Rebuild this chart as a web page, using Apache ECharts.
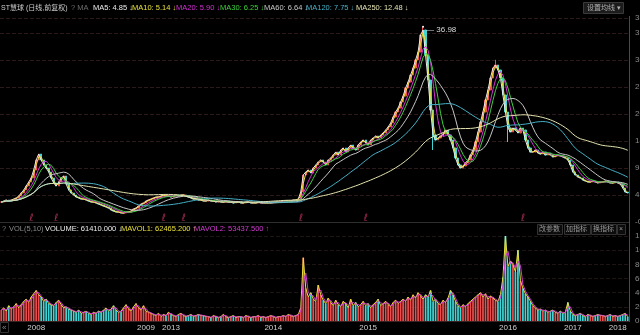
<!DOCTYPE html>
<html><head><meta charset="utf-8">
<script src="https://cdn.jsdelivr.net/npm/echarts@6/dist/echarts.min.js"></script>
<style>html,body{margin:0;padding:0;background:#000;}#c{width:640px;height:335px;}</style>
</head><body><div id="c"></div>
<script>
// ---- data (one candle ≈ 4 trading days) ----
const closes = [
3.09,3.29,3.48,3.29,3.48,3.67,3.87,4.26,4.84,5.42,6.19,6.96,7.74,9.28,11.22,12.38,11.22,10.25,9.67,8.90,
7.74,6.77,6.19,6.96,7.74,8.12,6.58,5.42,4.84,4.45,4.06,3.87,3.67,3.67,3.48,3.29,3.09,3.09,2.90,2.71,
2.51,2.32,2.13,1.93,1.55,1.35,1.16,1.16,0.97,0.97,1.16,1.16,1.35,1.74,1.93,2.32,2.71,2.90,3.29,3.48,
3.67,3.87,4.06,4.06,4.26,4.45,4.26,4.26,4.06,4.26,4.45,4.26,4.45,4.45,4.26,4.06,3.87,3.67,3.67,3.48,
3.48,3.29,3.29,3.48,3.29,3.29,3.09,3.29,3.09,3.09,3.29,3.09,3.09,2.90,3.09,3.09,2.90,2.90,3.09,3.09,
2.90,2.90,2.90,3.09,2.90,2.90,2.90,2.90,2.90,3.09,3.09,3.09,3.09,3.29,3.29,3.29,3.29,3.48,3.48,3.67,
5.03,8.32,8.90,9.28,8.70,9.67,10.25,10.83,11.22,10.83,10.25,11.22,11.60,12.18,12.76,12.18,13.15,13.54,12.76,13.54,
14.12,13.54,13.15,14.12,14.70,15.09,14.51,14.12,15.09,15.47,15.86,15.47,16.05,16.44,17.02,17.60,18.37,19.53,20.50,21.27,
22.43,23.59,25.14,26.30,27.66,29.01,30.56,32.10,35.39,36.36,31.52,26.69,20.89,16.05,15.09,15.47,15.86,16.25,17.02,16.05,
15.09,13.54,11.60,10.25,9.67,10.06,10.64,11.22,12.18,13.15,14.70,16.63,18.57,20.50,22.82,24.76,27.08,29.01,29.59,28.62,
27.08,23.79,20.50,17.41,16.63,17.41,17.02,16.44,17.41,17.02,15.09,13.54,12.76,12.76,13.15,12.57,12.38,12.76,12.18,12.57,
12.18,11.80,11.99,12.18,11.99,11.80,11.60,11.22,10.25,8.90,8.32,7.93,7.74,7.35,7.16,6.96,6.96,7.16,6.96,6.77,
6.96,6.96,7.16,6.96,6.77,6.77,6.96,6.77,6.58,5.80,5.03,4.85
];
// volume, thousands of lots
const volumes = [
154,185,139,216,169,200,246,185,231,277,308,262,339,
385,431,370,339,277,308,246,231,
216,262,293,231,185,200,169,154,
139,123,154,108,123,139,108,92,123,108,139,123,
154,185,139,169,216,154,123,139,185,231,169,139,
200,246,185,154,216,139,123,108,
92,77,108,62,92,77,123,92,77,62,92,108,77,62,77,92,62,77,92,77,
77,62,62,46,77,62,46,62,92,62,46,62,77,46,62,62,46,77,62,46,62,62,77,46,62,46,62,77,62,46,62,62,77,62,92,77,62,77,92,
185,893,
462,339,400,308,277,508,370,293,246,323,
262,216,293,231,200,277,246,185,308,216,262,200,231,277,216,246,185,231,262,
308,216,246,277,231,200,262,293,246,277,
308,277,339,293,370,323,400,354,308,370,
339,431,277,308,246,231,293,262,323,431,
370,277,216,185,231,200,246,277,308,339,
370,400,339,385,308,354,323,293,277,370,
616,1200,770,847,800,693,1000,570,462,385,339,277,
216,185,154,169,139,154,123,139,154,123,108,139,
108,123,262,139,92,77,92,108,77,62,92,77,62,77,92,77,
77,62,77,92,62,77,62,77,92,108,61.41
];
const yearTicks = {14:'2008', 58:'2009', 68:'2013', 109:'2014', 147:'2015', 203:'2016', 229:'2017', 247:'2018'};
const highOverrides = {169: 36.98, 198: 30.6};
const lowOverrides = {173: 13.15, 203: 14.7};
const eventCandles = [12, 22, 65, 73, 120, 146, 209];
const maNames = ['MA5','MA10','MA20','MA30','MA60','MA120','MA250'];
const maValues = ['4.85','5.14','5.90','6.25','6.64','7.75','12.48'];
const maWindows = [1, 2, 5, 7, 14, 29, 60];
const volLegendNames = ['VOLUME','MAVOL1','MAVOL2'];
const volLegendValues = ['61410.000','62465.200','53437.500'];
const volLegendArrows = ['↓','↑','↑'];
const volWindows = [1, 2];

// ---- styles ----
const maColors = ['#ececec','#e8e03c','#d630d6','#3cd23c','#c8c8c8','#46b0c8','#e4e4b0'];
const UP = '#ec4c4c', DOWN = '#40d4d4';
const FONT = 'Liberation Sans Narrow, Liberation Sans, Noto Sans CJK SC, sans-serif';

const cats = closes.map((_, i) => 'd' + i);
const candles = closes.map((c, i) => {
  const o = i ? closes[i - 1] : c;
  let lo = Math.min(o, c), hi = Math.max(o, c);
  if (highOverrides[i] != null) hi = highOverrides[i];
  if (lowOverrides[i] != null) lo = lowOverrides[i];
  return [o, c, lo, hi];
});
function ma(arr, n) {
  return arr.map((_, i) => {
    const s = Math.max(0, i - n + 1); let t = 0;
    for (let k = s; k <= i; k++) t += arr[k];
    return +(t / (i - s + 1)).toFixed(3);
  });
}
const chart = echarts.init(document.getElementById('c'), null, {renderer: 'canvas'});

const maSeries = maNames.map((nm, k) => ({
  name: nm, type: 'line', xAxisIndex: 0, yAxisIndex: 0, data: ma(closes, maWindows[k]),
  showSymbol: false, symbol: 'none', lineStyle: {width: 1, color: maColors[k]}, z: 3
}));
const volColors = ['#e8e03c', '#d23cd2'];
const volMaSeries = volWindows.map((w, k) => ({
  name: volLegendNames[k + 1], type: 'line', xAxisIndex: 1, yAxisIndex: 1, data: ma(volumes, w),
  showSymbol: false, symbol: 'none', lineStyle: {width: 1, color: volColors[k]}, z: 4
}));

// legend texts
const g = [];
function txt(x, y, text, fill, size) {
  g.push({type: 'text', x: x, y: y, z: 50, style: {text: text, fill: fill, fontSize: size || 8, fontFamily: FONT, verticalAlign: 'middle'}});
}
txt(1, 8, 'ST慧球 (日线,前复权)', '#cfcfcf', 7);
txt(71, 8, '? MA', '#6e6e6e', 7.5);
const maX = [93, 132, 176, 220, 264, 306, 356];
maNames.forEach((nm, k) => txt(maX[k], 8, nm + ': ' + maValues[k] + ' ↓', maColors[k], 7.5));
// 设置均线 button
g.push({type: 'rect', shape: {x: 583.5, y: 2.5, width: 40, height: 11}, style: {fill: '#1c1c1c', stroke: '#3a3a3a', lineWidth: 1}, z: 49});
txt(587, 8, '设置均线 ▾', '#b0b0b0', 7);
// volume legend
txt(2, 229, '?', '#777', 7.5);
txt(9, 229, 'VOL(5,10)', '#8a8a8a', 7.5);
const vx = [45, 121, 194];
const vcol = ['#ececec', '#e8e03c', '#d23cd2'];
volLegendNames.forEach((nm, k) => txt(vx[k], 229, nm + ': ' + volLegendValues[k] + ' ' + volLegendArrows[k], vcol[k], 7.5));
// indicator buttons
const btns = [['改参数', 537, 25], ['加指标', 564, 26], ['换指标', 591, 25], ['×', 617, 8]];
btns.forEach(b => {
  g.push({type: 'rect', shape: {x: b[1] + 0.5, y: 224.5, width: b[2], height: 10}, style: {fill: '#0c0c0c', stroke: '#333', lineWidth: 1}, z: 49});
  txt(b[1] + 2, 229.5, b[0], '#9a9a9a', 7);
});
// frame lines
g.push({type: 'line', shape: {x1: 0, y1: 222.5, x2: 629, y2: 222.5}, style: {stroke: '#2e2e2e', lineWidth: 1}, z: 40});
g.push({type: 'line', shape: {x1: 629.5, y1: 16, x2: 629.5, y2: 322}, style: {stroke: '#4a4a4a', lineWidth: 1}, z: 40});
g.push({type: 'rect', shape: {x: 0.5, y: 322.5, width: 8, height: 10}, style: {fill: '#000', stroke: '#333', lineWidth: 1}, z: 49});
txt(2, 328, '«', '#888', 8);

chart.setOption({
  backgroundColor: '#000',
  animation: false,
  grid: [
    {left: 0, right: 11, top: 18, bottom: 113, outerBoundsMode: 'none', containLabel: false},
    {left: 0, right: 11, top: 236, bottom: 14, outerBoundsMode: 'none', containLabel: false}
  ],
  xAxis: [
    {type: 'category', gridIndex: 0, data: cats, boundaryGap: true, axisLine: {show: false}, axisTick: {show: false}, axisLabel: {show: false}, splitLine: {show: false}},
    {type: 'category', gridIndex: 1, data: cats, boundaryGap: true, axisLine: {show: true, lineStyle: {color: '#3a2222'}}, axisTick: {show: false},
     axisLabel: {interval: 0, color: '#cfcfcf', fontSize: 8, fontFamily: 'Liberation Sans, sans-serif', margin: 3, formatter: (v, i) => yearTicks[i] || ''}, splitLine: {show: false}}
  ],
  yAxis: [
    {type: 'value', gridIndex: 0, position: 'right', min: -0.77, max: 38.68, interval: 5.22,
     axisLine: {show: false}, axisTick: {show: false},
     axisLabel: {color: '#8a8a8a', fontSize: 8, margin: 6, formatter: v => v.toFixed(2)},
     splitLine: {show: true, lineStyle: {color: '#2c1a1a', type: 'dashed', width: 1}}},
    {type: 'value', gridIndex: 1, position: 'right', min: 0, max: 1200, interval: 200,
     axisLine: {show: false}, axisTick: {show: false},
     axisLabel: {color: '#8a8a8a', fontSize: 8, margin: 6, formatter: v => String(v * 1000)},
     splitLine: {show: true, lineStyle: {color: '#1e1414', type: 'dashed', width: 1}}}
  ],
  series: [
    {type: 'candlestick', xAxisIndex: 0, yAxisIndex: 0, data: candles, barWidth: '70%', z: 2,
     itemStyle: {color: UP, color0: DOWN, borderColor: UP, borderColor0: DOWN, borderWidth: 1},
     markPoint: {symbol: 'circle', symbolSize: 2, itemStyle: {color: '#fff'},
       label: {show: true, position: 'right', distance: 2, offset: [0, 3], color: '#d8d8d8', fontSize: 8, fontFamily: 'Liberation Sans, sans-serif', formatter: p => '— ' + p.value},
       data: [{type: 'max', valueDim: 'highest'}]}
    },
    ...maSeries,
    {type: 'scatter', xAxisIndex: 0, yAxisIndex: 0, data: eventCandles.map(i => [i, -0.15]), symbolSize: 1,
     itemStyle: {color: 'rgba(0,0,0,0)'}, z: 6,
     label: {show: true, position: 'inside', formatter: 'ℓ', color: '#c8346a', fontSize: 10, fontFamily: 'DejaVu Sans, sans-serif'}},
    {type: 'bar', xAxisIndex: 1, yAxisIndex: 1, barWidth: '70%', z: 2,
     data: volumes.map((v, i) => ({value: v, itemStyle: {color: candles[i][1] >= candles[i][0] ? UP : DOWN}}))},
    ...volMaSeries
  ],
  graphic: g
});
</script></body></html>
